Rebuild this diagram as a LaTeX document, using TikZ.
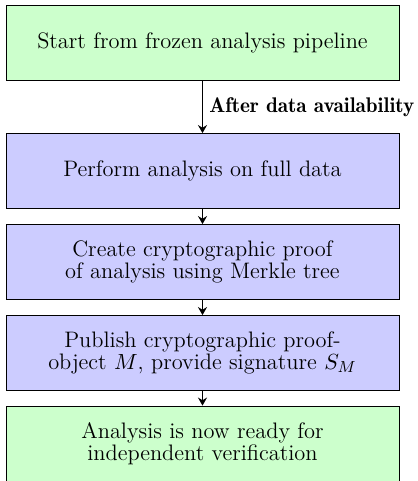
\documentclass[tikz,border=0pt]{standalone}
\usepackage{amsmath}
\usepackage{amssymb}
\usepackage{tikz}
\usetikzlibrary{positioning, arrows.meta}

\begin{document}
\begin{tikzpicture}[
    font=\fontsize{11.2}{11}\selectfont,
    stepbox/.style={draw, minimum width=196.5pt, minimum height=37.5pt, align=center},
    greenbox/.style={stepbox, fill=green!20},
    bluebox/.style={stepbox, fill=blue!20},
    flow/.style={-{Stealth[length=4pt, width=4.5pt]}, thick}
  ]
      \useasboundingbox (-101.25pt,21.25pt) rectangle (107.25pt,-219.25pt);
      \node[greenbox] (Start) {Start from frozen analysis pipeline};
      \node[on grid, below=64.25pt of Start, bluebox] (Perform) {Perform analysis on full data};
      \node[on grid, below=45.5pt of Perform, bluebox] (Proof) {Create cryptographic proof\\of analysis using Merkle tree};
      \node[on grid, below=45.5pt of Proof, bluebox] (Publish) {Publish cryptographic proof-\\object \(M\), provide signature \(S_M\)};
      \node[on grid, below=45.25pt of Publish, greenbox] (Ready) {Analysis is now ready for\\independent verification};
      \draw[flow] (Start) to node[right, inner sep=3pt, font=\fontsize{10.6}{11}\fontseries{b}\selectfont] {After data availability} (Perform);
      \draw[flow] (Perform) to (Proof);
      \draw[flow] (Proof) to (Publish);
      \draw[flow] (Publish) to (Ready);
    \end{tikzpicture}
\end{document}
